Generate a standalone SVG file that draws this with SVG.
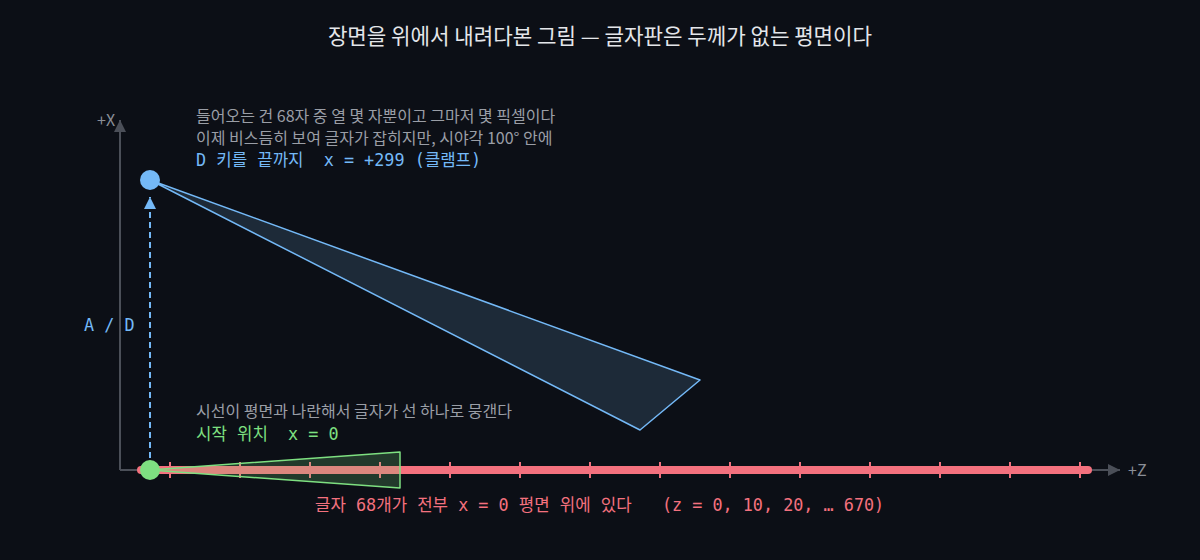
<svg xmlns="http://www.w3.org/2000/svg" width="1200" height="560" viewBox="0 0 1200 560">
<defs>
<style>
text{white-space:pre;}
.ko{font-family:"Noto Sans CJK KR","Noto Sans",sans-serif;}
.mono{font-family:"DejaVu Sans Mono","Noto Sans CJK KR",monospace;font-size:16.8px;}
.gray{fill:#9a9ea6;font-size:16px;}
.axis{stroke:#4b4f58;stroke-width:2;fill:none;}
.tick{stroke:#f4717e;stroke-width:2;}
</style>
<marker id="axArrow" viewBox="0 0 12 12" refX="12" refY="6" markerWidth="12" markerHeight="12" markerUnits="userSpaceOnUse" orient="auto">
<path d="M0,0 L12,6 L0,12 Z" fill="#4b4f58"/>
</marker>
<marker id="blueArrow" viewBox="0 0 12 12" refX="12" refY="6" markerWidth="12" markerHeight="12" markerUnits="userSpaceOnUse" orient="auto">
<path d="M0,0 L12,6 L0,12 Z" fill="#74b9f7"/>
</marker>
</defs>
<rect width="1200" height="560" fill="#0c0f16"/>
<text class="ko" x="600" y="44" font-size="21.2" fill="#e4e6ea" text-anchor="middle">장면을 위에서 내려다본 그림 — 글자판은 두께가 없는 평면이다</text>

<g id="axes">
<path class="axis" d="M120,470 L120,120" marker-end="url(#axArrow)"/>
<path class="axis" d="M120,470 L1120,470" marker-end="url(#axArrow)"/>
<text class="ko" x="97" y="126" font-size="16" fill="#8a8e96">+X</text>
<text class="ko" x="1128" y="476" font-size="16" fill="#8a8e96">+Z</text>
</g>

<g id="text-plane">
<line x1="141" y1="470" x2="1088" y2="470" stroke="#f4717e" stroke-width="8" stroke-linecap="round"/>
<g class="tick">
<line x1="170" y1="462" x2="170" y2="478"/>
<line x1="240" y1="462" x2="240" y2="478"/>
<line x1="310" y1="462" x2="310" y2="478"/>
<line x1="380" y1="462" x2="380" y2="478"/>
<line x1="450" y1="462" x2="450" y2="478"/>
<line x1="520" y1="462" x2="520" y2="478"/>
<line x1="590" y1="462" x2="590" y2="478"/>
<line x1="660" y1="462" x2="660" y2="478"/>
<line x1="730" y1="462" x2="730" y2="478"/>
<line x1="800" y1="462" x2="800" y2="478"/>
<line x1="870" y1="462" x2="870" y2="478"/>
<line x1="940" y1="462" x2="940" y2="478"/>
<line x1="1010" y1="462" x2="1010" y2="478"/>
<line x1="1080" y1="462" x2="1080" y2="478"/>
</g>
<text class="mono" x="315" y="511" fill="#f4717e" xml:space="preserve">글자 68개가 전부 x = 0 평면 위에 있다   (z = 0, 10, 20, … 670)</text>
</g>

<g id="connectors">
<line x1="150" y1="458" x2="150" y2="197" stroke="#74b9f7" stroke-width="2" stroke-dasharray="6 4" marker-end="url(#blueArrow)"/>
<text class="mono" x="84" y="331" fill="#74b9f7" xml:space="preserve">A / D</text>
</g>

<g id="view-clamped">
<polygon points="150,180 700,380 640,430" fill="#1d2a38" stroke="#74b9f7" stroke-width="1.5" stroke-linejoin="round"/>
<circle cx="150" cy="180" r="10" fill="#74b9f7"/>
<text class="ko gray" x="196" y="122">들어오는 건 68자 중 열 몇 자뿐이고 그마저 몇 픽셀이다</text>
<text class="ko gray" x="196" y="144">이제 비스듬히 보여 글자가 잡히지만, 시야각 100° 안에</text>
<text class="mono" x="196" y="166" fill="#74b9f7" xml:space="preserve">D 키를 끝까지  x = +299 (클램프)</text>
</g>

<g id="view-start">
<polygon points="150,470 400,452 400,488" fill="#7ee081" fill-opacity="0.2" stroke="#7ee081" stroke-width="1.5" stroke-linejoin="round"/>
<circle cx="150" cy="470" r="10" fill="#7ee081"/>
<text class="ko gray" x="196" y="417">시선이 평면과 나란해서 글자가 선 하나로 뭉갠다</text>
<text class="mono" x="196" y="440" fill="#7ee081" xml:space="preserve">시작 위치  x = 0</text>
</g>
</svg>
